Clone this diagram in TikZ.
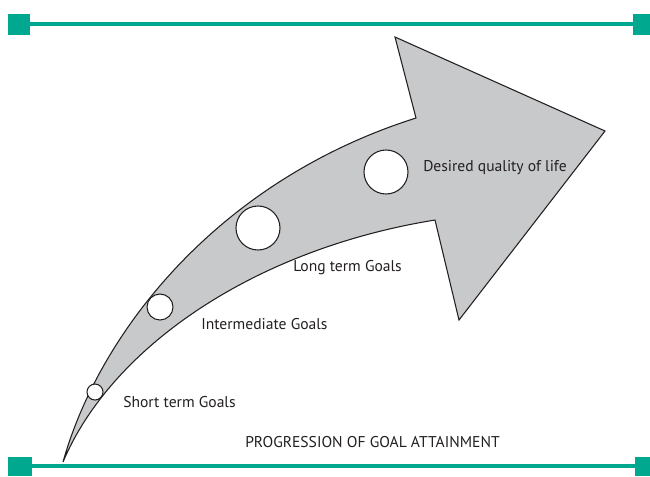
\documentclass[tikz,border=0pt]{standalone}
\usepackage{fontspec}
\setmainfont{PT Sans}
\definecolor{teal1}{HTML}{00A88F}
\definecolor{arrowgrey}{HTML}{C8C9CB}
\definecolor{txt}{HTML}{231F20}
\begin{document}
\begin{tikzpicture}[x=0.75pt,y=-0.75pt,
  bar/.style={draw=teal1,line width=3.6pt},
  endsq/.style={fill=teal1},
  goal/.style={circle,draw=txt,fill=white,line width=0.8pt,inner sep=0pt},
  lbl/.style={anchor=west,text=txt,font=\fontsize{11.7}{14}\selectfont,inner sep=0pt},
]
\useasboundingbox (0,0) rectangle (650,476);
% top bar
\coordinate (tl) at (25,24);
\coordinate (tr) at (636,24);
\draw[bar] (tl) -- (tr);
\fill[endsq] (8,14) rectangle (30,35);
\fill[endsq] (633,14) rectangle (650,35);
% bottom bar
\coordinate (bl) at (25,466);
\coordinate (br) at (636,466);
\draw[bar] (bl) -- (br);
\fill[endsq] (8,457) rectangle (32,476);
\fill[endsq] (635,457) rectangle (650,476);
% arrow
\coordinate (tail) at (63,462);
\coordinate (n1) at (416,118);
\coordinate (top) at (395,37);
\coordinate (tip) at (605,131);
\coordinate (bot) at (459,320);
\coordinate (n2) at (435,220);
\filldraw[fill=arrowgrey,draw=txt,line width=0.8pt,line join=miter]
  (tail) .. controls (100,330) and (220,180) .. (n1)
  -- (top) -- (tip) -- (bot) -- (n2)
  .. controls (250,250) and (110,350) .. (tail) -- cycle;
% goals
\node[goal,minimum size=16pt*0.75] (g1) at (95,392) {};
\node[goal,minimum size=26pt*0.75] (g2) at (160,307) {};
\node[goal,minimum size=44pt*0.75] (g3) at (258,228) {};
\node[goal,minimum size=44pt*0.75] (g4) at (386,172) {};
\node[lbl] (l1) at (123,402) {Short term Goals};
\node[lbl] (l2) at (201,324) {Intermediate Goals};
\node[lbl] (l3) at (293,268) {Long term Goals};
\node[lbl] (l4) at (423,168) {Desired quality of life};
\node[lbl] (l5) at (245,442) {PROGRESSION OF GOAL ATTAINMENT};
\end{tikzpicture}
\end{document}
